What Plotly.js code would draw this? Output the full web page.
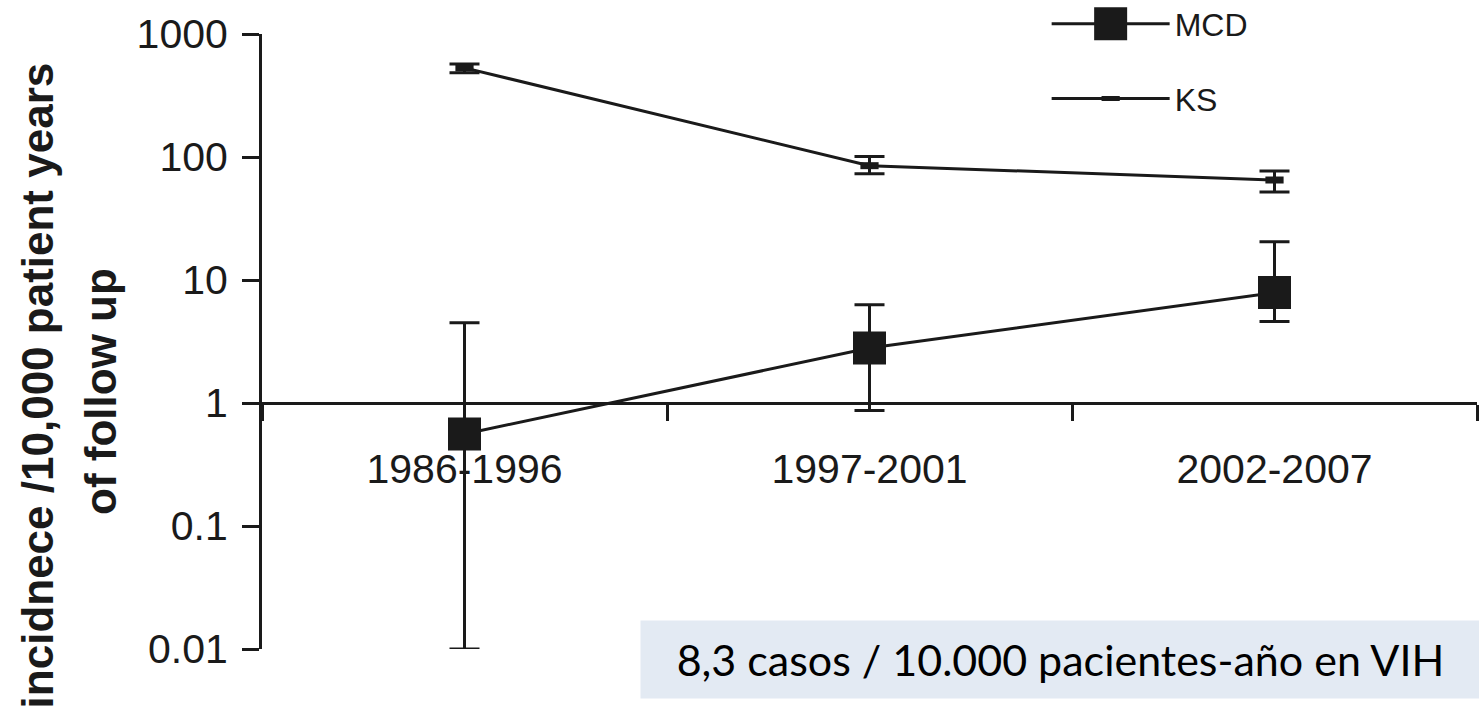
<!DOCTYPE html>
<html>
<head>
<meta charset="utf-8">
<script src="https://cdn.plot.ly/plotly-3.0.1.min.js"></script>
<style>html,body{margin:0;padding:0;background:#fff;}#chart{width:1479px;height:716px;}</style>
</head>
<body>
<div id="chart"></div>
<script>
// Data
const periods = ['1986-1996', '1997-2001', '2002-2007'];
const mcdValues = [0.56, 2.8, 7.9];
const mcdUpper = [4.5, 6.3, 20.5];
const mcdLower = [0.01, 0.87, 4.6];
const ksValues = [530, 85, 65];
const ksUpper = [570, 101, 77];
const ksLower = [485, 73, 52];
const yTickVals = [0.01, 0.1, 1, 10, 100, 1000];
const yTickText = ['0.01', '0.1', '1', '10', '100', '1000'];
const yTitleLine1 = 'incidnece /10,000 patient years';
const yTitleLine2 = 'of follow up';
const noteText = '8,3 casos / 10.000 pacientes-año en VIH';

const ink = '#1a1a1a';
const plus = (v, u) => v.map((x, i) => u[i] - x);
const minus = (v, l) => v.map((x, i) => x - l[i]);

const traces = [
  {
    x: periods, y: mcdValues, name: 'MCD', type: 'scatter', mode: 'lines+markers',
    legendgroup: 'a',
    line: {color: ink, width: 3},
    marker: {symbol: 'square', size: 33, color: ink},
    error_y: {type: 'data', array: plus(mcdValues, mcdUpper), arrayminus: minus(mcdValues, mcdLower),
              symmetric: false, color: ink, thickness: 3, width: 15}
  },
  {
    x: periods, y: ksValues, name: 'KS', type: 'scatter', mode: 'lines+markers',
    legendgroup: 'b',
    line: {color: ink, width: 3},
    marker: {symbol: 'line-ew', size: 13, color: ink, line: {color: ink, width: 7}},
    error_y: {type: 'data', array: plus(ksValues, ksUpper), arrayminus: minus(ksValues, ksLower),
              symmetric: false, color: ink, thickness: 3, width: 15}
  }
];

const titleFont = {family: 'Liberation Sans, Arial, sans-serif', size: 44, color: ink, weight: 'bold'};

const layout = {
  width: 1479, height: 716,
  margin: {l: 262, r: 2, t: 34, b: 67, autoexpand: false},
  paper_bgcolor: '#fff', plot_bgcolor: '#fff',
  font: {family: 'Liberation Sans, Arial, sans-serif', color: ink},
  showlegend: true,
  legend: {
    x: 0.6458, xanchor: 'left', y: 1.061, yanchor: 'top',
    font: {size: 32, color: ink, family: 'Liberation Sans, Arial, sans-serif'},
    itemwidth: 118, traceorder: 'grouped', tracegroupgap: 30,
    bgcolor: 'rgba(0,0,0,0)', itemsizing: 'trace'
  },
  xaxis: {
    type: 'category', range: [-0.5, 2.5], anchor: 'free', position: 0.4,
    showline: true, linecolor: ink, linewidth: 3,
    ticks: 'outside', tickson: 'boundaries', ticklen: 16, tickwidth: 3, tickcolor: ink,
    ticklabelstandoff: 29,
    tickfont: {size: 41, color: ink},
    showgrid: false, zeroline: false, fixedrange: true, automargin: false
  },
  yaxis: {
    type: 'log', range: [-2, 3],
    showline: true, linecolor: ink, linewidth: 3,
    ticks: 'outside', ticklen: 17, tickwidth: 3, tickcolor: ink,
    tickvals: yTickVals, ticktext: yTickText,
    ticklabelstandoff: 6,
    tickfont: {size: 41, color: ink},
    showgrid: false, zeroline: false, fixedrange: true, automargin: false
  },
  annotations: [
    {
      xref: 'paper', yref: 'paper', x: -0.184, y: 0.4293, xanchor: 'center', yanchor: 'middle',
      text: yTitleLine1, textangle: -90, showarrow: false, font: titleFont
    },
    {
      xref: 'paper', yref: 'paper', x: -0.1325, y: 0.418, xanchor: 'center', yanchor: 'middle',
      text: yTitleLine2, textangle: -90, showarrow: false, font: titleFont
    },
    {
      xref: 'paper', yref: 'paper', x: 0.3115, y: -0.017, xanchor: 'left', yanchor: 'middle',
      text: noteText, showarrow: false, width: 839, height: 77, align: 'center', valign: 'middle',
      bgcolor: '#e3eaf3', borderpad: 0,
      font: {family: 'Lato, Open Sans, sans-serif', size: 43, color: '#000'}
    }
  ]
};

Plotly.newPlot('chart', traces, layout, {displayModeBar: false, staticPlot: true}).then(function (gd) {
  // enlarge the MCD legend symbol to the size of the plotted marker
  const pts = gd.querySelectorAll('.legend .traces');
  if (pts.length) {
    const p = pts[0].querySelector('path.scatterpts');
    if (p) p.setAttribute('d', 'M16.5,16.5H-16.5V-16.5H16.5Z');
  }
});
</script>
</body>
</html>
